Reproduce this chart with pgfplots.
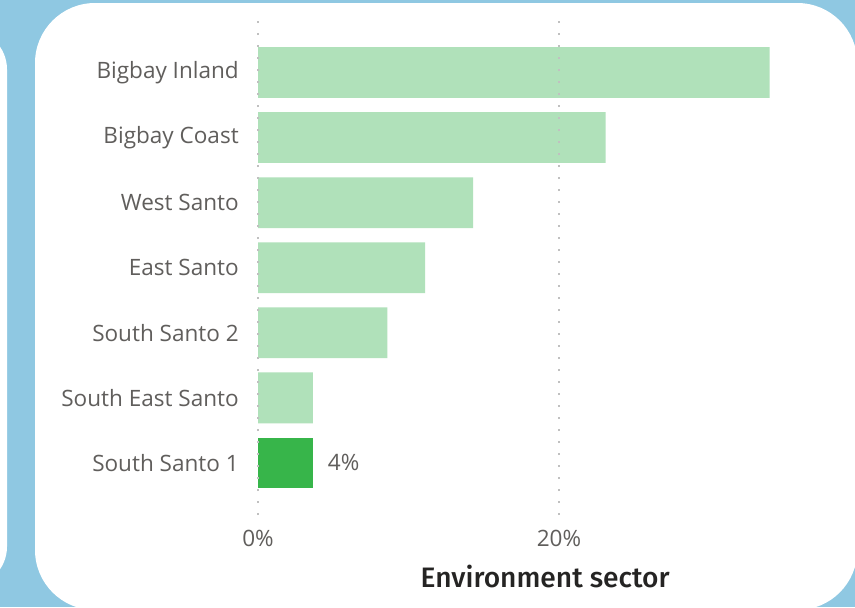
\documentclass[border=0pt]{standalone}
\usepackage{pgfplots}
\pgfplotsset{compat=1.18}
\usepackage{fontspec}
\setmainfont{Open Sans}
\newfontfamily\titlefont{Fira Sans Medium}
\definecolor{bgblue}{HTML}{8FC8E2}
\definecolor{lightbar}{HTML}{B0E1BA}
\definecolor{darkbar}{HTML}{37B54A}
\definecolor{labgrey}{HTML}{605E5C}
\definecolor{gridgrey}{HTML}{C0C0C0}
\definecolor{titlecol}{HTML}{252423}
\begin{document}
\begin{tikzpicture}
% background, 1px = 0.75pt, y downward negative
\useasboundingbox (0,0) rectangle (641.25pt,-455.25pt);
\clip (0,0) rectangle (641.25pt,-455.25pt);
\fill[bgblue] (0,0) rectangle (641.25pt,-455.25pt);
\fill[white, rounded corners=45pt] (26.25pt,-2.25pt) rectangle (643pt,-457.5pt);
\fill[white, rounded corners=30pt] (-80pt,-22pt) rectangle (5.25pt,-440pt);
\begin{axis}[
  at={(193.5pt,-386.25pt)}, anchor=south west,
  scale only axis,
  width=406.35pt, height=370.95pt,
  xmin=0, xmax=36, ymin=-0.8, ymax=6.8,
  axis line style={draw=none},
  major tick length=0pt,
  xbar, bar width=0.78, bar shift=0pt,
  xtick={0,20},
  xticklabels={0\%,20\%},
  ytick={0,1,2,3,4,5,6},
  yticklabels={South Santo 1,South East Santo,South Santo 2,East Santo,West Santo,Bigbay Coast,Bigbay Inland},
  yticklabel style={anchor=east, inner sep=0pt, xshift=-14.25pt, font=\fontsize{16.9}{18}\selectfont, text=labgrey},
  xticklabel style={anchor=north, inner sep=0pt, yshift=-11pt, font=\fontsize{16.9}{18}\selectfont, text=labgrey},
  xmajorgrids, axis on top,
  major grid style={draw=gridgrey, line width=1.3pt, dash pattern=on 1.3pt off 7.7pt, dash phase=0pt},
  xlabel={Environment sector},
  xlabel style={at={(axis description cs:0.53,0)}, anchor=north, yshift=-37pt, font=\titlefont\fontsize{21.1}{23}\selectfont, text=titlecol, inner sep=0pt},
  clip=false,
]
\addplot[fill=lightbar, draw=none] coordinates {
  (3.65,1) (8.6,2) (11.1,3) (14.3,4) (23.1,5) (34.0,6)
};
\addplot[fill=darkbar, draw=none,
  point meta=explicit symbolic,
  nodes near coords,
  nodes near coords style={anchor=west, inner sep=0pt, xshift=11pt, font=\fontsize{16.9}{18}\selectfont, text=labgrey}]
  coordinates {(3.65,0) [4\%]};
\end{axis}
\end{tikzpicture}
\end{document}
